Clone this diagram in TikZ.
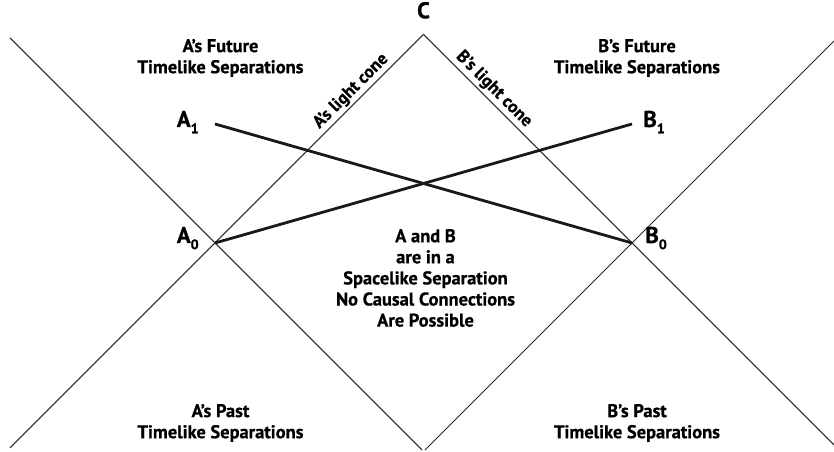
\documentclass[tikz,border=0pt]{standalone}
\usepackage{fontspec}
\setmainfont{PT Sans}[BoldFeatures={FakeBold=0.6}]
\usetikzlibrary{positioning}
\newcommand{\evsub}[1]{\raisebox{-0.55ex}{\fontsize{8}{8}\selectfont #1}}
\tikzset{
  cone/.style={draw=black!85, line width=0.6pt},
  wline/.style={draw=black!90, line width=1.6pt},
  region/.style={align=center, inner sep=0pt, font=\fontsize{10.5}{12}\selectfont\bfseries},
  ptlabel/.style={inner sep=0pt, font=\fontsize{13}{14}\selectfont\bfseries},
  conelabel/.style={sloped, above, inner sep=1.5pt, font=\fontsize{10}{11}\selectfont\bfseries}
}
\begin{document}
\begin{tikzpicture}
  \useasboundingbox (0,0) rectangle (16.68,9.04);
  % events
  \coordinate (a0) at (4.30,4.18);
  \coordinate (b0) at (12.64,4.18);
  \coordinate (a1) at (4.30,6.56);
  \coordinate (b1) at (12.64,6.56);
  \coordinate (c)  at (8.47,8.35);
  % ends of the cone lines
  \coordinate (atl) at (0.20,8.28);
  \coordinate (abl) at (0.20,0.08);
  \coordinate (abr) at (8.44,0.04);
  \coordinate (bbl) at (8.50,0.04);
  \coordinate (btr) at (16.68,8.22);
  \coordinate (bbr) at (16.68,0.14);

  % light cones
  \draw[cone] (atl) -- (abr);
  \draw[cone] (abl) -- (c);
  \draw[cone] (c) -- (bbr);
  \draw[cone] (bbl) -- (btr);

  % world lines
  \draw[wline] (a1) -- (b0);
  \draw[wline] (a0) -- (b1);

  % event labels
  \node[ptlabel, above=0.31cm of c] (clbl) {C};
  \node[ptlabel, anchor=base east] (a1lbl) at ([xshift=-0.32cm, yshift=-0.06cm]a1) {A\evsub{1}};
  \node[ptlabel, anchor=base east] (a0lbl) at ([xshift=-0.32cm]a0) {A\evsub{0}};
  \node[ptlabel, anchor=base west] (b1lbl) at ([xshift=0.22cm, yshift=-0.06cm]b1) {B\evsub{1}};
  \node[ptlabel, anchor=base west] (b0lbl) at ([xshift=0.26cm]b0) {B\evsub{0}};

  \path (a0) -- (c) node[conelabel, pos=0.69] (alc) {A’s light cone};
  \path (c) -- (b0) node[conelabel, pos=0.30] (blc) {B’s light cone};

  % regions
  \node[region] (afuture) at (4.41,7.88) {A’s Future\\Timelike Separations};
  \node[region] (bfuture) at (12.74,7.88) {B’s Future\\Timelike Separations};
  \node[region] (spacelike) at (8.51,3.48)
    {A and B\\are in a\\Spacelike Separation\\No Causal Connections\\Are Possible};
  \node[region] (apast) at (4.41,0.58) {A’s Past\\Timelike Separations};
  \node[region] (bpast) at (12.74,0.58) {B’s Past\\Timelike Separations};
\end{tikzpicture}
\end{document}
